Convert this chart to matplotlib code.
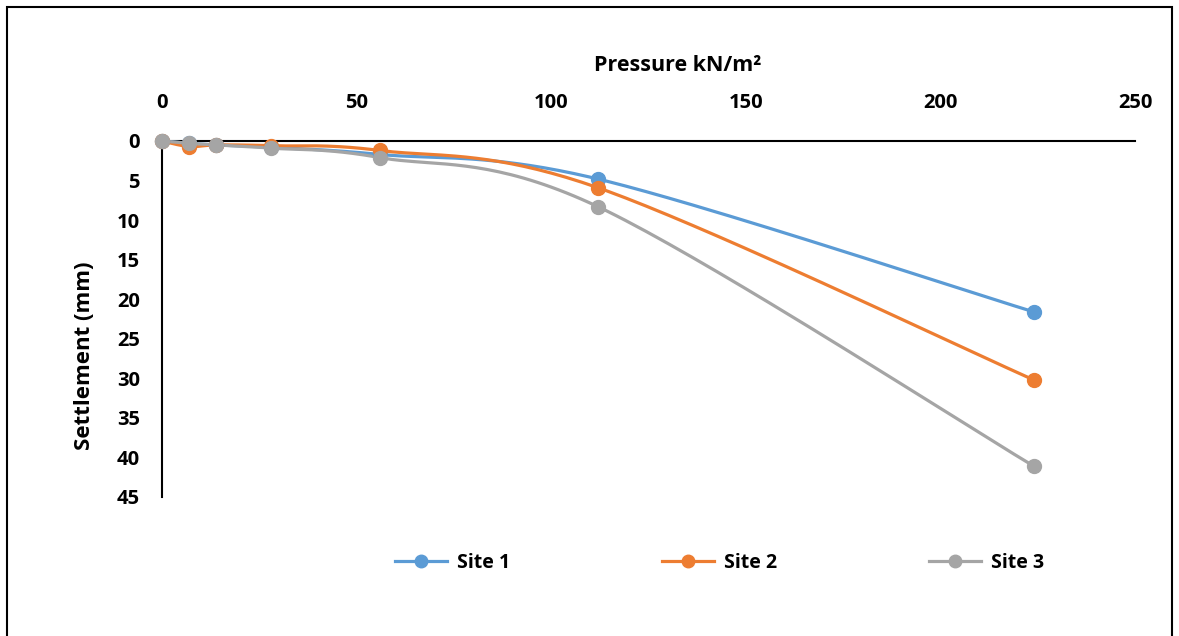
import numpy as np
import matplotlib
matplotlib.use("Agg")
import matplotlib.pyplot as plt
from matplotlib.patches import Rectangle

pressure = [0, 7, 14, 28, 56, 112, 224]
site1 = [0, 0.3, 0.5, 0.8, 1.7, 4.8, 21.6]
site2 = [0, 0.7, 0.5, 0.6, 1.2, 5.9, 30.2]
site3 = [0, 0.3, 0.5, 0.9, 2.1, 8.3, 41.1]
series_names = ["Site 1", "Site 2", "Site 3"]
colors = ["#5B9BD5", "#ED7D31", "#A5A5A5"]
xticks = [0, 50, 100, 150, 200, 250]
yticks = [0, 5, 10, 15, 20, 25, 30, 35, 40, 45]

plt.rcParams['font.family'] = ['Open Sans', 'DejaVu Sans']


def smooth(x, y, n=40):
    # Catmull-Rom style smoothing (like Excel smoothed line) for drawing
    x = np.asarray(x, float)
    y = np.asarray(y, float)
    P = np.column_stack([x, y])
    P = np.vstack([P[0], P, P[-1]])
    out = []
    for i in range(1, len(P) - 2):
        p0, p1, p2, p3 = P[i - 1], P[i], P[i + 1], P[i + 2]
        t = np.linspace(0, 1, n)[:, None]
        c1 = p1 + (p2 - p0) / 6
        c2 = p2 - (p3 - p1) / 6
        seg = ((1 - t) ** 3) * p1 + 3 * ((1 - t) ** 2) * t * c1 + 3 * (1 - t) * t ** 2 * c2 + t ** 3 * p2
        out.append(seg)
    out = np.vstack(out)
    return out[:, 0], out[:, 1]


fig = plt.figure(figsize=(11.79, 6.36), dpi=100)
W, H = 1179, 636
ax = fig.add_axes([162 / W, 1 - 497 / H, (1135 - 162) / W, (497 - 141) / H])

for name, ys, c in zip(series_names, [site1, site2, site3], colors):
    sx, sy = smooth(pressure, ys)
    ax.plot(sx, sy, color=c, lw=2.3, solid_capstyle='round', zorder=2, clip_on=False)
    ax.plot(pressure, ys, linestyle='none', marker='o', markersize=10, color=c, zorder=3, clip_on=False)
    ax.plot([], [], color=c, lw=2.3, marker='o', markersize=9, label=name)

ax.set_xlim(0, 250)
ax.set_ylim(45, 0)
ax.set_xticks(xticks)
ax.set_yticks(yticks)
ax.xaxis.tick_top()
ax.xaxis.set_label_position('top')
ax.tick_params(axis='both', length=0, labelsize=14.5)
ax.tick_params(axis='x', pad=20.5)
ax.tick_params(axis='y', pad=16)
for lab in ax.get_xticklabels() + ax.get_yticklabels():
    lab.set_fontweight('bold')
for s in ['right', 'bottom']:
    ax.spines[s].set_visible(False)
for s in ['top', 'left']:
    ax.spines[s].set_linewidth(1.5)
    ax.spines[s].set_color('black')
ax.spines['top'].set_zorder(1)

ax.set_xlabel("Pressure kN/m²", fontsize=15.5, fontweight='bold')
ax.xaxis.set_label_coords((678 - 162) / 973, (497 - 71) / 356)
ax.set_ylabel("Settlement (mm)", fontsize=16, fontweight='bold')
ax.yaxis.set_label_coords((95 - 162) / 973, (497 - 356) / 356)

leg = fig.legend(loc='center', bbox_to_anchor=(719.5 / W, 1 - 563 / H), ncol=3,
                 frameon=False, handlelength=2.7, columnspacing=7.8, handletextpad=0.5,
                 prop={'weight': 'bold', 'size': 14})

fig.patches.append(Rectangle((7 / W, -0.01), (1172 - 7) / W, 1 - 7 / H + 0.01,
                             transform=fig.transFigure, fill=False, edgecolor='black', lw=1.5))

fig.savefig("out.png", dpi=100)
